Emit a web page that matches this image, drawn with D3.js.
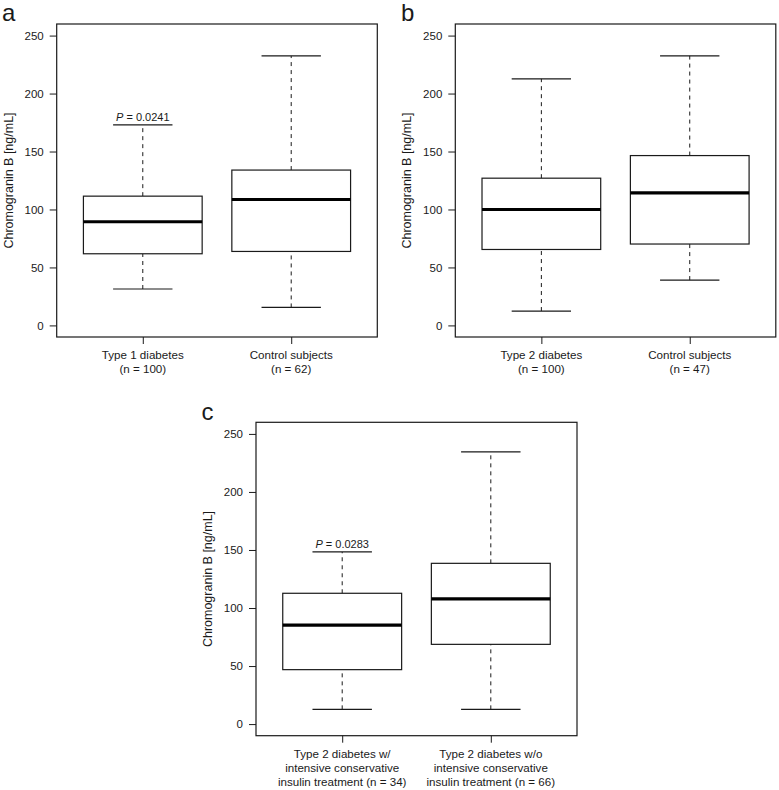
<!DOCTYPE html>
<html>
<head>
<meta charset="utf-8">
<script src="https://cdn.jsdelivr.net/npm/d3@7"></script>
<style>
  html, body { margin: 0; padding: 0; background: #fff; }
  svg text { font-family: "Liberation Sans", Arial, sans-serif; fill: #1a1a1a; }
</style>
</head>
<body>
<svg id="chart" width="779" height="790"></svg>
<script>
// ---- Data (five-number box summaries: lower whisker, Q1, median, Q3, upper whisker) ----
const yTicks = [0, 50, 100, 150, 200, 250];
const yLabel = "Chromogranin B [ng/mL]";

const panelALabels = [["Type 1 diabetes", "(n = 100)"], ["Control subjects", "(n = 62)"]];
const panelAType1 = [31.4, 61.8, 89.4, 111.5, 173.0];
const panelAControl = [15.5, 63.8, 108.6, 134.0, 232.5];
const panelAPvalue = "0.0241";

const panelBLabels = [["Type 2 diabetes", "(n = 100)"], ["Control subjects", "(n = 47)"]];
const panelBType2 = [12.4, 65.5, 100.0, 127.0, 212.7];
const panelBControl = [39.1, 70.2, 114.4, 146.5, 232.5];

const panelCLabels = [
  ["Type 2 diabetes w/", "intensive conservative", "insulin treatment (n = 34)"],
  ["Type 2 diabetes w/o", "intensive conservative", "insulin treatment (n = 66)"]
];
const panelCWith = [12.7, 46.9, 85.3, 112.7, 148.3];
const panelCWithout = [12.7, 68.7, 107.8, 138.5, 234.5];
const panelCPvalue = "0.0283";

// ---- Drawing ----
const svg = d3.select("#chart");
const ink = "#1a1a1a";

function drawPanel(cfg) {
  const { left, right, top, bottom, letter, letterPos, labels, stats, pText } = cfg;
  const g = svg.append("g");
  const x = d3.scaleLinear().domain([0.42, 2.58]).range([left, right]);
  const y = d3.scaleLinear().domain([-10, 260]).range([bottom, top]);

  // frame
  g.append("rect").attr("x", left).attr("y", top)
    .attr("width", right - left).attr("height", bottom - top)
    .attr("fill", "none").attr("stroke", ink).attr("stroke-width", 1.2);

  // y axis
  const yAxis = d3.axisLeft(y).tickValues(yTicks).tickSize(7).tickPadding(6);
  const ya = g.append("g").attr("transform", `translate(${left},0)`).call(yAxis);
  ya.select(".domain").remove();
  ya.selectAll("line").attr("stroke", ink);
  ya.selectAll("text").style("font-size", "11.5px").attr("fill", ink);

  // x axis ticks
  const xa = g.append("g").attr("transform", `translate(0,${bottom})`)
    .call(d3.axisBottom(x).tickValues([1, 2]).tickSize(7).tickFormat(""));
  xa.select(".domain").remove();
  xa.selectAll("line").attr("stroke", ink);

  // x labels
  labels.forEach((lines, i) => {
    const t = g.append("text").attr("x", x(i + 1)).attr("y", bottom + 22)
      .attr("text-anchor", "middle").style("font-size", "11.6px");
    lines.forEach((ln, j) => {
      t.append("tspan").attr("x", x(i + 1)).attr("dy", j === 0 ? 0 : 13.9).text(ln);
    });
  });

  // y label
  g.append("text")
    .attr("transform", `translate(${left - 44},${(top + bottom) / 2}) rotate(-90)`)
    .attr("text-anchor", "middle").style("font-size", "12.5px").text(yLabel);

  // panel letter
  g.append("text").attr("x", letterPos[0]).attr("y", letterPos[1])
    .style("font-size", "24px").attr("fill", "#000").text(letter);

  // boxes
  const boxW = 0.8, capW = 0.4;
  stats.forEach((s, i) => {
    const c = i + 1;
    const [lo, q1, med, q3, hi] = s;
    [[lo, q1], [q3, hi]].forEach(([a, b]) => {
      g.append("line").attr("x1", x(c)).attr("x2", x(c)).attr("y1", y(a)).attr("y2", y(b))
        .attr("stroke", ink).attr("stroke-width", 1).attr("stroke-dasharray", "4,4");
    });
    [lo, hi].forEach(v => {
      g.append("line").attr("x1", x(c - capW / 2)).attr("x2", x(c + capW / 2))
        .attr("y1", y(v)).attr("y2", y(v)).attr("stroke", ink).attr("stroke-width", 1.2);
    });
    g.append("rect").attr("x", x(c - boxW / 2)).attr("y", y(q3))
      .attr("width", x(c + boxW / 2) - x(c - boxW / 2)).attr("height", y(q1) - y(q3))
      .attr("fill", "#fff").attr("stroke", ink).attr("stroke-width", 1.2);
    g.append("line").attr("x1", x(c - boxW / 2)).attr("x2", x(c + boxW / 2))
      .attr("y1", y(med)).attr("y2", y(med)).attr("stroke", "#000").attr("stroke-width", 3.2);
  });

  if (pText) {
    const hi = stats[0][4];
    const t = g.append("text").attr("x", x(1)).attr("y", y(hi) - 3.5)
      .attr("text-anchor", "middle").style("font-size", "11px");
    t.append("tspan").style("font-style", "italic").text("P");
    t.append("tspan").text(" = " + pText);
  }
}

drawPanel({
  left: 56.7, right: 377.3, top: 24, bottom: 337,
  letter: "a", letterPos: [2, 21],
  labels: panelALabels, stats: [panelAType1, panelAControl], pText: panelAPvalue
});
drawPanel({
  left: 455.3, right: 775.8, top: 24, bottom: 337,
  letter: "b", letterPos: [401, 21],
  labels: panelBLabels, stats: [panelBType2, panelBControl], pText: null
});
drawPanel({
  left: 256, right: 577, top: 422.3, bottom: 735.7,
  letter: "c", letterPos: [201.5, 419.5],
  labels: panelCLabels, stats: [panelCWith, panelCWithout], pText: panelCPvalue
});
</script>
</body>
</html>
